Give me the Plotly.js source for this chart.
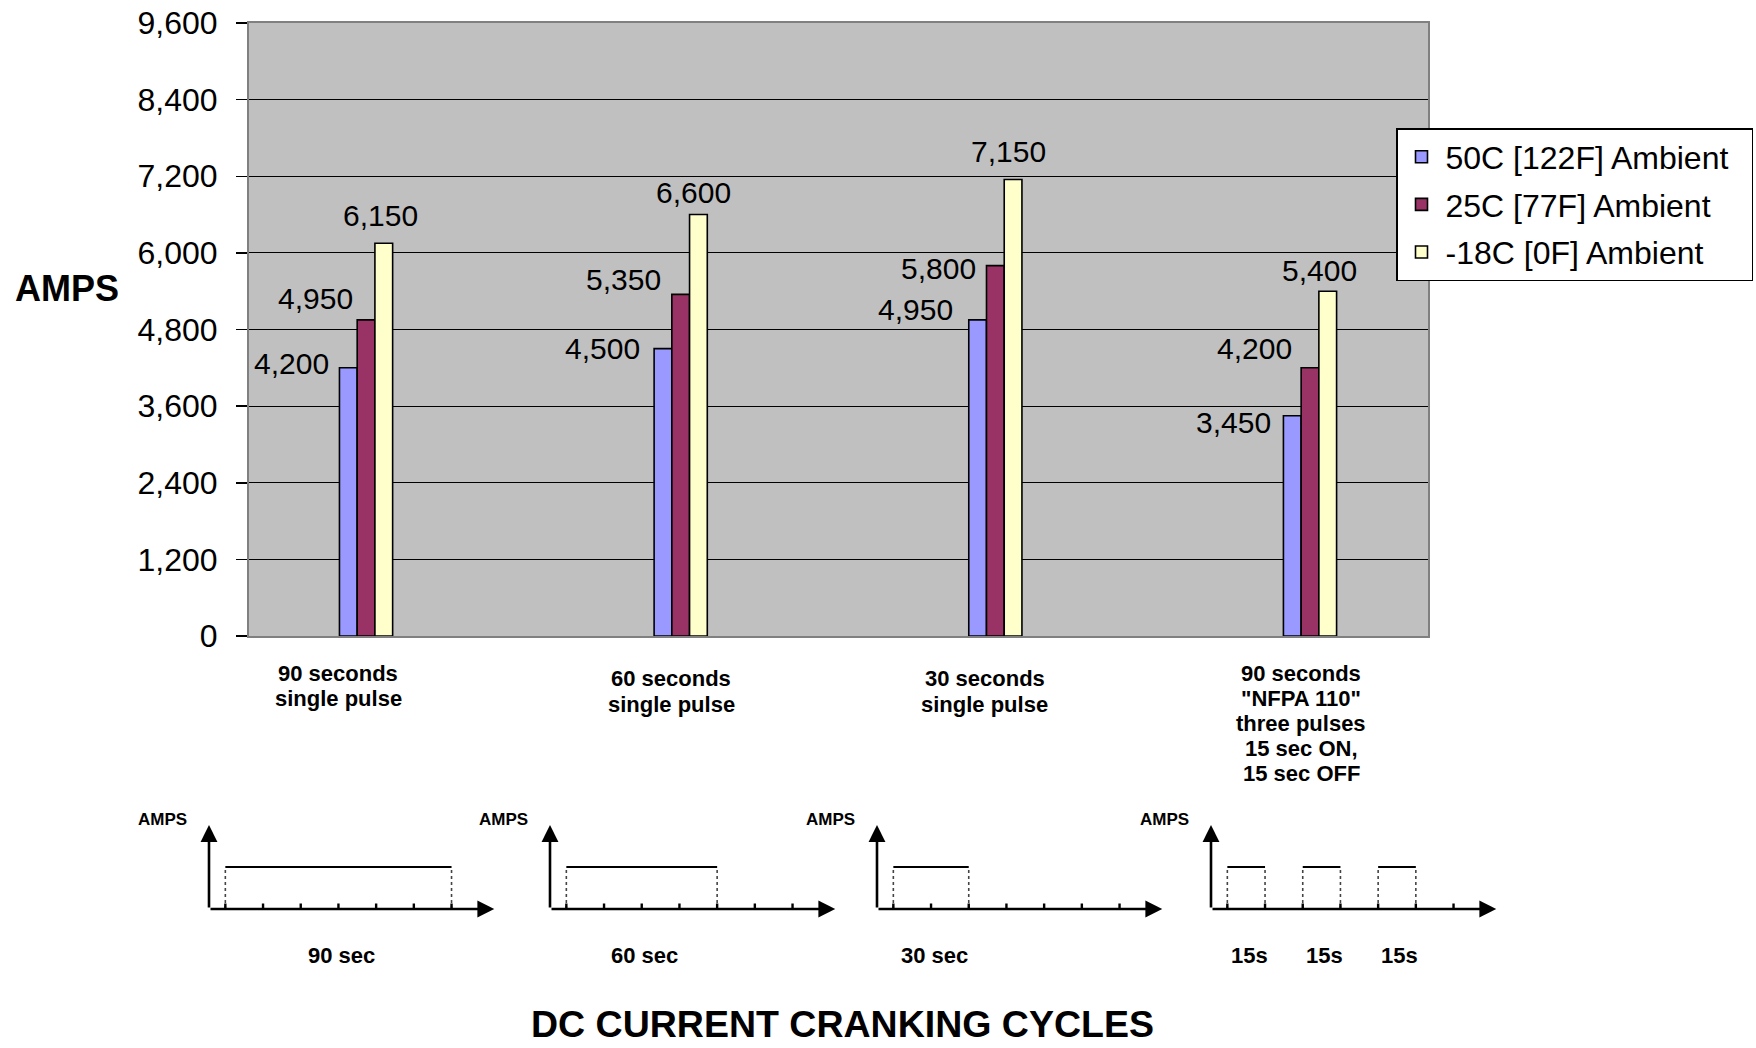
<!DOCTYPE html>
<html>
<head>
<meta charset="utf-8">
<script src="https://cdn.plot.ly/plotly-3.0.1.min.js"></script>
<style>html,body{margin:0;padding:0;background:#fff;overflow:hidden;}#chart{width:1756px;height:1048px;}</style>
</head>
<body>
<div id="chart"></div>
<script>
// ---------- data ----------
const categories = [
  "90 seconds<br>single pulse",
  "60 seconds<br>single pulse",
  "30 seconds<br>single pulse",
  "90 seconds<br>\"NFPA 110\"<br>three pulses<br>15 sec ON,<br>15 sec OFF"
];
const seriesNames = ["50C [122F] Ambient", "25C [77F] Ambient", "-18C [0F] Ambient"];
const amps50C = [4200, 4500, 4950, 3450];
const amps25C = [4950, 5350, 5800, 4200];
const ampsMinus18C = [6150, 6600, 7150, 5400];
const yTickValues = [0, 1200, 2400, 3600, 4800, 6000, 7200, 8400, 9600];

// cranking-cycle sketches (seconds)
const cycleTickSeconds = [0, 15, 30, 45, 60, 75, 90];
const pulses90 = [[0, 90]];
const pulses60 = [[0, 60]];
const pulses30 = [[0, 30]];
const pulsesNFPA = [[0, 15], [30, 45], [60, 75]];
const pulseLabels90 = ["90 sec"];
const pulseLabels60 = ["60 sec"];
const pulseLabels30 = ["30 sec"];
const pulseLabelsNFPA = ["15s", "15s", "15s"];

// ---------- layout constants ----------
const W = 1756, H = 1048;
const px = v => v / W;
const py = v => (H - v) / H;
const FONT = "Liberation Sans, Arial, sans-serif";
const colors = ["#9999FF", "#993366", "#FFFFCC"];
const bargap = 0.831;
const barW = (1 - bargap) / 3;
// label offsets in pixels [xshift, yshift] per series, per category
const labelShift = [
  [[-57, 4], [-60, 0], [-62, 10], [-59, -7]],
  [[-51, 21], [-57, 15], [-57, -3], [-56, 19]],
  [[-3, 28], [-5, 22], [-5, 28], [-8, 21]]
];
const catLabelX = [338, 671, 985, 1301];
const catLabelY = [673, 679, 679, 673];
const diagramLeft = [209, 550, 877, 1211];
const diagramRange = [-6.5, 107];
const legendPad = "\u00a0\u00a0";

const series = [amps50C, amps25C, ampsMinus18C];
const xIdx = categories.map((_, i) => i);

const traces = series.map((vals, k) => ({
  type: "bar",
  x: xIdx,
  y: vals,
  name: seriesNames[k] + legendPad,
  legendgroup: "g" + k,
  marker: {color: colors[k], line: {color: "#000", width: 1.6}},
  hoverinfo: "y"
}));

const annotations = [];
// data labels
series.forEach((vals, k) => {
  vals.forEach((v, i) => {
    annotations.push({
      x: i + (k - 1) * barW, y: v, xref: "x", yref: "y",
      text: v.toLocaleString("en-US"), showarrow: false,
      xanchor: "center", yanchor: "middle",
      xshift: labelShift[k][i][0], yshift: labelShift[k][i][1],
      font: {family: FONT, size: 30, color: "#000"}
    });
  });
});
// category labels (one annotation per line)
categories.forEach((c, i) => {
  c.split("<br>").forEach((line, j) => {
    annotations.push({
      x: px(catLabelX[i]), y: py(catLabelY[i] + j * 25), xref: "paper", yref: "paper",
      text: "<b>" + line + "</b>", showarrow: false, xanchor: "center", yanchor: "middle",
      font: {family: FONT, size: 22, color: "#000"}
    });
  });
});
// axis titles
annotations.push({
  x: px(13), y: py(289), xref: "paper", yref: "paper", text: "<b>AMPS</b>",
  showarrow: false, xanchor: "left", yanchor: "middle",
  font: {family: FONT, size: 36, color: "#000"}
});
annotations.push({
  x: px(842), y: py(1024), xref: "paper", yref: "paper", text: "<b>DC CURRENT CRANKING CYCLES</b>",
  showarrow: false, xanchor: "center", yanchor: "middle",
  font: {family: FONT, size: 37.5, color: "#000"}
});

// cycle sketches
const diagrams = [
  {pulses: pulses90, labels: pulseLabels90},
  {pulses: pulses60, labels: pulseLabels60},
  {pulses: pulses30, labels: pulseLabels30},
  {pulses: pulsesNFPA, labels: pulseLabelsNFPA}
];
const layoutAxes = {};
const pxPerSec = 37.7 / 15;
diagrams.forEach((d, n) => {
  const ax = n + 2;
  const xa = "x" + ax, ya = "y" + ax;
  const left = diagramLeft[n];
  const width = (diagramRange[1] - diagramRange[0]) * pxPerSec;
  layoutAxes["xaxis" + ax] = {domain: [px(left), px(left + width)], range: diagramRange, visible: false, fixedrange: true, anchor: ya};
  layoutAxes["yaxis" + ax] = {domain: [py(909), py(825)], range: [0, 2], visible: false, fixedrange: true, anchor: xa};
  const tx = [], ty = [], dx = [], dy = [], kx = [], ky = [];
  d.pulses.forEach(p => {
    tx.push(p[0], p[1], null); ty.push(1, 1, null);
    dx.push(p[0], p[0], null, p[1], p[1], null); dy.push(0, 1, null, 0, 1, null);
  });
  cycleTickSeconds.forEach(t => { kx.push(t, t, null); ky.push(-0.2, 0.13, null); });
  traces.push({type: "scatter", mode: "lines", x: dx, y: dy, xaxis: xa, yaxis: ya, showlegend: false, hoverinfo: "skip",
    line: {color: "#444", width: 1.6, dash: "dot"}});
  traces.push({type: "scatter", mode: "lines", x: tx, y: ty, xaxis: xa, yaxis: ya, showlegend: false, hoverinfo: "skip",
    line: {color: "#000", width: 2.2}});
  traces.push({type: "scatter", mode: "lines", x: kx, y: ky, xaxis: xa, yaxis: ya, showlegend: false, hoverinfo: "skip",
    cliponaxis: false, line: {color: "#000", width: 2.4}});
  annotations.push({x: diagramRange[1], y: 0, ax: diagramRange[0], ay: 0, xref: xa, yref: ya, axref: xa, ayref: ya,
    showarrow: true, text: "", arrowhead: 2, arrowsize: 1.3, arrowwidth: 2.6, arrowcolor: "#000", standoff: 0, startstandoff: 0});
  annotations.push({x: diagramRange[0], y: 2, ax: diagramRange[0], ay: 0, xref: xa, yref: ya, axref: xa, ayref: ya,
    showarrow: true, text: "", arrowhead: 2, arrowsize: 1.3, arrowwidth: 2.6, arrowcolor: "#000", standoff: 0, startstandoff: 0});
  annotations.push({x: px(left - 47), y: py(819), xref: "paper", yref: "paper", text: "<b>AMPS</b>", showarrow: false,
    xanchor: "center", yanchor: "middle", font: {family: FONT, size: 17, color: "#000"}});
  d.pulses.forEach((p, j) => {
    annotations.push({x: (p[0] + p[1]) / 2, y: 0, xref: xa, yref: ya, yshift: -46, xshift: 3, text: "<b>" + d.labels[j] + "</b>",
      showarrow: false, xanchor: "center", yanchor: "middle", font: {family: FONT, size: 22, color: "#000"}});
  });
});

const layout = Object.assign({
  width: W, height: H,
  margin: {l: 0, r: 0, t: 0, b: 0},
  paper_bgcolor: "#fff",
  plot_bgcolor: "rgba(0,0,0,0)",
  barmode: "group",
  bargap: bargap,
  bargroupgap: 0,
  font: {family: FONT, color: "#000"},
  showlegend: true,
  legend: {
    x: px(1396), y: py(128), xanchor: "left", yanchor: "top",
    bgcolor: "#fff", bordercolor: "#000", borderwidth: 1.5,
    font: {family: FONT, size: 32, color: "#000"},
    traceorder: "grouped", tracegroupgap: 3, itemwidth: 38
  },
  shapes: [{
    type: "rect", xref: "x domain", yref: "y domain", x0: 0, x1: 1, y0: 0, y1: 1,
    fillcolor: "#C0C0C0", line: {width: 0}, layer: "below"
  }],
  xaxis: {
    domain: [px(249), px(1428)], range: [-0.372, 3.375],
    showticklabels: false, ticks: "", showgrid: false, zeroline: false,
    showline: true, linecolor: "#808080", linewidth: 2, mirror: true, fixedrange: true
  },
  yaxis: {
    domain: [py(636), py(23)], range: [0, 9600],
    tickvals: yTickValues, ticktext: yTickValues.map(v => v.toLocaleString("en-US")),
    ticks: "outside", ticklen: 11, tickcolor: "#000", tickwidth: 1.5,
    ticklabelstandoff: 12,
    tickfont: {family: FONT, size: 32, color: "#000"},
    showgrid: true, gridcolor: "#000", gridwidth: 1,
    zeroline: false, showline: true, linecolor: "#808080", linewidth: 2, mirror: true, fixedrange: true
  },
  annotations: annotations
}, layoutAxes);

Plotly.newPlot("chart", traces, layout, {displayModeBar: false, staticPlot: true});
</script>
</body>
</html>
